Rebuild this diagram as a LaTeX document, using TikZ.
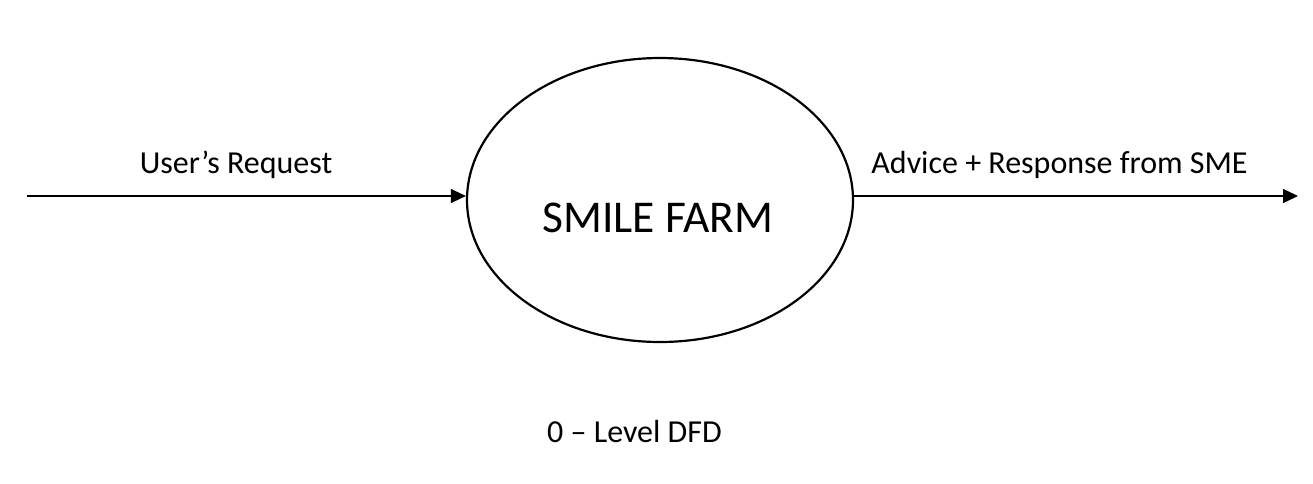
\documentclass[tikz,border=0pt]{standalone}
\usepackage{fontspec}
\setmainfont{Carlito}
\usepackage{tikz}
\usetikzlibrary{shapes.geometric}
\usetikzlibrary{arrows.meta}

\tikzset{
    flow/.style={draw, black, line width=1.4pt, -{Triangle[length=15pt,width=14pt]}},
    flowlabel/.style={anchor=base, inner sep=0pt, font=\fontsize{32}{36}\selectfont},
    process/.style={draw, black, ellipse, line width=2.2pt, minimum width=386pt, minimum height=284pt, inner sep=0pt},
}

\begin{document}
\begin{tikzpicture}[x=1pt, y=-1pt]
        \useasboundingbox (0,0) rectangle (1313,483);

        %%PROCESS
        \node[process] (farm) at (660,200) {};
        \node[anchor=base, inner sep=0pt, font=\fontsize{45.5}{50}\selectfont] (farmname) at (658,232) {SMILE FARM};

        %%FLOWS
        % External ends
        \coordinate (src) at (27,196);
        \coordinate (snk) at (1298,196);

        % Request in
        \draw[flow] (src) -- (src -| farm.west);

        % Advice out
        \draw[flow] (snk -| farm.east) -- (snk);

        %%LABELS
        \node[flowlabel] (req) at (236,173) {User’s Request};
        \node[flowlabel] (adv) at (1059.5,173) {Advice + Response from SME};
        \node[flowlabel] (title) at (634.5,442) {0 – Level DFD};

\end{tikzpicture}
\end{document}
